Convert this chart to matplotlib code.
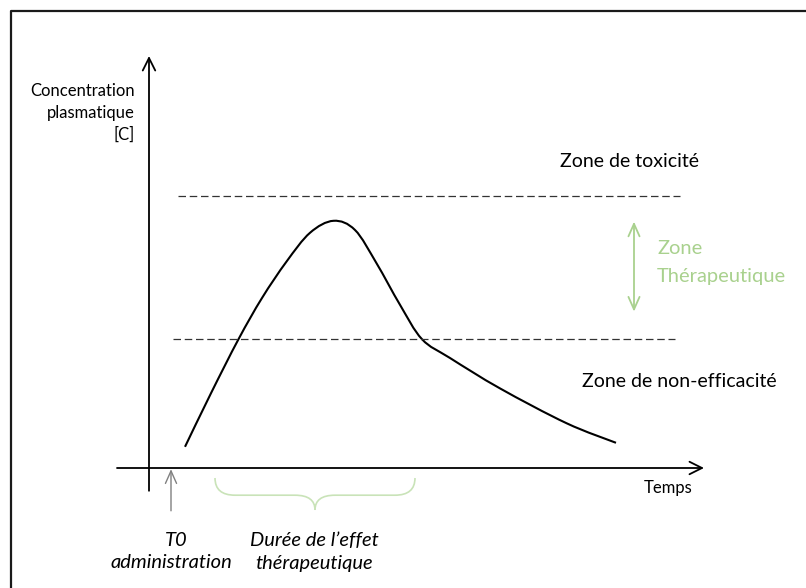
import matplotlib
matplotlib.use("Agg")
import matplotlib.pyplot as plt
from matplotlib.path import Path
from matplotlib.patches import PathPatch
from matplotlib.lines import Line2D

# ---- data (time in arbitrary units, concentration in arbitrary units) ----
time = [0.72, 1.24, 1.79, 2.26, 2.75, 3.22, 3.69, 4.12, 4.55, 5.02, 5.46, 6.02,
        7.02, 8.35, 9.34]
conc = [0.53, 1.87, 3.22, 4.25, 5.16, 5.88, 6.18, 5.95, 5.12, 4.08, 3.22, 2.75,
        1.99, 1.12, 0.63]
toxic_level = 6.81        # upper dashed threshold
efficacy_level = 3.22     # lower dashed threshold
t0 = 0.44                 # administration time
effect_start, effect_end = 1.32, 5.32

y_label_lines = ["Concentration", "plasmatique", "[C]"]
x_label = "Temps"
zone_top = "Zone de toxicité"
zone_mid = ["Zone", "Thérapeutique"]
zone_low = "Zone de non-efficacité"
t0_label = ["T0", "administration"]
effect_label = ["Durée de l\u2019effet", "thérapeutique"]

GREEN = "#a9d18e"
BRACE_GREEN = "#c9e3b8"
FONT = "Lato"

fig = plt.figure(figsize=(8.06, 5.88), dpi=100)
ax = fig.add_axes([0, 0, 1, 1])
# origin at (149, 468) px, 50 px per time unit, 40 px per conc unit
ax.set_xlim((0 - 149) / 50, (806 - 149) / 50)
ax.set_ylim((468 - 588) / 40, 468 / 40)
ax.axis("off")

# outer frame (top and left)
ax.add_line(Line2D([-2.76, -2.76, 13.2], [-3.1, 11.425, 11.425], color="#1a1a1a", lw=1.6, clip_on=False))

# axes arrows
ax.annotate("", xy=(0, 10.3), xytext=(0, -0.57),
            arrowprops=dict(arrowstyle="->,head_length=0.9,head_width=0.45", lw=1.3, color="black",
                            shrinkA=0, shrinkB=0))
ax.annotate("", xy=(11.1, 0), xytext=(-0.64, 0),
            arrowprops=dict(arrowstyle="->,head_length=0.9,head_width=0.45", lw=1.3, color="black",
                            shrinkA=0, shrinkB=0))

# threshold dashed lines
ax.plot([0.58, 10.62], [toxic_level, toxic_level], color="#333333", lw=0.9, dashes=(6, 3))
ax.plot([0.48, 10.52], [efficacy_level, efficacy_level], color="#333333", lw=0.9, dashes=(6, 3))

# concentration curve: smooth path through the read points (Catmull-Rom -> cubic Bezier)
pts = list(zip(time, conc))
verts = [pts[0]]
codes = [Path.MOVETO]
n = len(pts)
for i in range(n - 1):
    p0 = pts[i - 1] if i > 0 else pts[i]
    p1 = pts[i]
    p2 = pts[i + 1]
    p3 = pts[i + 2] if i + 2 < n else pts[i + 1]
    c1 = (p1[0] + (p2[0] - p0[0]) / 6, p1[1] + (p2[1] - p0[1]) / 6)
    c2 = (p2[0] - (p3[0] - p1[0]) / 6, p2[1] - (p3[1] - p1[1]) / 6)
    verts += [c1, c2, p2]
    codes += [Path.CURVE4, Path.CURVE4, Path.CURVE4]
ax.add_patch(PathPatch(Path(verts, codes), facecolor="none", edgecolor="black", lw=1.5))

# therapeutic zone arrow
ax.annotate("", xy=(9.7, 6.16), xytext=(9.7, 3.91),
            arrowprops=dict(arrowstyle="<->,head_length=0.9,head_width=0.4", lw=1.3, color=GREEN,
                            shrinkA=0, shrinkB=0))

# T0 arrow
ax.annotate("", xy=(t0, -0.03), xytext=(t0, -1.07),
            arrowprops=dict(arrowstyle="->,head_length=0.9,head_width=0.4", lw=1.0, color="#808080",
                            shrinkA=0, shrinkB=0))

# brace under effect duration
mid = (effect_start + effect_end) / 2
yt, yf, ytip = -0.25, -0.68, -1.05
left = Path([(effect_start, yt), (effect_start, yf), (effect_start + 0.4, yf),
             (mid - 0.4, yf), (mid, yf), (mid, ytip)],
            [Path.MOVETO, Path.CURVE3, Path.CURVE3, Path.LINETO, Path.CURVE3, Path.CURVE3])
right = Path([(effect_end, yt), (effect_end, yf), (effect_end - 0.4, yf),
              (mid + 0.4, yf), (mid, yf), (mid, ytip)],
             [Path.MOVETO, Path.CURVE3, Path.CURVE3, Path.LINETO, Path.CURVE3, Path.CURVE3])
for p in (left, right):
    ax.add_patch(PathPatch(p, facecolor="none", edgecolor=BRACE_GREEN, lw=1.2))

# texts
fs = 12
fz = 14
fi = 14.5
for i, line in enumerate(y_label_lines):
    ax.text(-0.28, 9.43 - i * 0.55, line, ha="right", va="center", fontsize=fs, family=FONT)
ax.text(9.9, -0.5, x_label, ha="left", va="center", fontsize=fs, family=FONT)
ax.text(8.22, 7.65, zone_top, ha="left", va="center", fontsize=fz, family=FONT)
ax.text(8.65, 2.17, zone_low, ha="left", va="center", fontsize=fz, family=FONT)
ax.text(10.16, 5.5, zone_mid[0], ha="left", va="center", fontsize=fi, family=FONT, color=GREEN)
ax.text(10.16, 4.79, zone_mid[1], ha="left", va="center", fontsize=fi, family=FONT, color=GREEN)
ax.text(0.55, -1.8, t0_label[0], ha="center", va="center", fontsize=fi, family=FONT, style="italic")
ax.text(0.44, -2.375, t0_label[1], ha="center", va="center", fontsize=fi, family=FONT, style="italic")
ax.text(3.3, -1.8, effect_label[0], ha="center", va="center", fontsize=fi, family=FONT, style="italic")
ax.text(3.31, -2.375, effect_label[1], ha="center", va="center", fontsize=fi, family=FONT, style="italic")

fig.savefig("out.png", dpi=100)
